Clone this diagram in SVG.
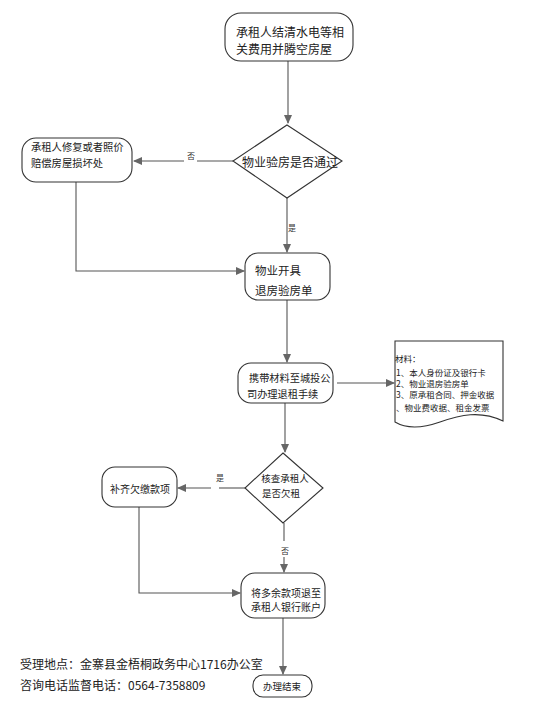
<svg xmlns="http://www.w3.org/2000/svg" width="539" height="718" viewBox="0 0 539 718">
<defs>
<marker id="arr" markerWidth="9" markerHeight="8" refX="8" refY="4" orient="auto" markerUnits="userSpaceOnUse">
<path d="M0,0 L9,4 L0,8 Z" fill="#666"/>
</marker>
<style>
.n{fill:#fff;stroke:#333;stroke-width:1.1}
.t{font-family:"Noto Sans CJK SC","Noto Sans",sans-serif;fill:#222;dominant-baseline:central}
.c{fill:none;stroke:#555;stroke-width:1.1}
.a{marker-end:url(#arr)}
.l{font-family:"Noto Sans CJK SC",sans-serif;fill:#333;font-size:8px;dominant-baseline:central;text-anchor:middle}
</style>
</defs>
<rect width="539" height="718" fill="#fff"/>
<g id="connectors">
<path class="c a" d="M288,61 V123"/>
<path class="c" d="M233,161 H197"/>
<path class="c a" d="M184,161 H134"/>
<text class="l" x="191" y="155">否</text>
<path class="c a" d="M287,198 V252"/>
<text class="l" x="292" y="227">是</text>
<path class="c a" d="M76,182 V271 H244"/>
<path class="c a" d="M287,300 V362"/>
<path class="c a" d="M337,383 H394"/>
<path class="c a" d="M285,403 V452"/>
<path class="c" d="M245,488 H219"/>
<path class="c a" d="M211,488 H178"/>
<text class="l" x="220" y="477">是</text>
<path class="c a" d="M139,507 V593 H240"/>
<path class="c" d="M284,523 V541"/>
<path class="c a" d="M284,557 V572"/>
<text class="l" x="285" y="550">否</text>
<path class="c a" d="M283,618 V674"/>
</g>
<g id="n1">
<rect class="n" x="225" y="13" width="128" height="48" rx="16"/>
<text class="t" x="236" y="31" font-size="12">承租人结清水电等相</text>
<text class="t" x="236" y="48" font-size="12">关费用并腾空房屋</text>
</g>
<g id="d1">
<path class="n" d="M287,125 L342,161 L287,198 L233,161 Z"/>
<text class="t" x="290" y="161" font-size="12" text-anchor="middle">物业验房是否通过</text>
</g>
<g id="n2">
<rect class="n" x="22" y="138" width="110" height="44" rx="14"/>
<text class="t" x="31" y="146" font-size="10.3">承租人修复或者照价</text>
<text class="t" x="31" y="162" font-size="10.3">赔偿房屋损坏处</text>
</g>
<g id="n3">
<rect class="n" x="245" y="253" width="85" height="47" rx="13"/>
<text class="t" x="255" y="270" font-size="11.5">物业开具</text>
<text class="t" x="255" y="290" font-size="11.5">退房验房单</text>
</g>
<g id="n4">
<rect class="n" x="238" y="363" width="95" height="40" rx="13"/>
<text class="t" x="249" y="377" font-size="10.2">携带材料至城投公</text>
<text class="t" x="247" y="393" font-size="10.2">司办理退租手续</text>
</g>
<g id="doc">
<path class="n" d="M395,341 H503 V421 C480,410 460,415 440,422 C420,429 405,428 395,422 Z"/>
<text class="t" x="395" y="358" font-size="8.5">材料：</text>
<text class="t" x="396" y="372" font-size="8.5">1、本人身份证及银行卡</text>
<text class="t" x="396" y="383" font-size="8.5">2、物业退房验房单</text>
<text class="t" x="396" y="394" font-size="8.5">3、原承租合同、押金收据</text>
<text class="t" x="396" y="407" font-size="8.5">、物业费收据、租金发票</text>
</g>
<g id="d2">
<path class="n" d="M283,453 L323,488 L283,523 L245,488 Z"/>
<text class="t" x="285" y="478" font-size="9.5" text-anchor="middle">核查承租人</text>
<text class="t" x="281" y="493" font-size="9.5" text-anchor="middle">是否欠租</text>
</g>
<g id="n5">
<rect class="n" x="102" y="467" width="75" height="40" rx="13"/>
<text class="t" x="140" y="488" font-size="10" text-anchor="middle">补齐欠缴款项</text>
</g>
<g id="n6">
<rect class="n" x="241" y="573" width="84" height="45" rx="14"/>
<text class="t" x="286" y="592" font-size="10" text-anchor="middle">将多余款项退至</text>
<text class="t" x="286" y="606" font-size="10" text-anchor="middle">承租人银行账户</text>
</g>
<g id="n7">
<rect class="n" x="253" y="675" width="59" height="22" rx="10"/>
<text class="t" x="282" y="686" font-size="9.5" text-anchor="middle">办理结束</text>
</g>
<g id="footer">
<text class="t" x="20" y="663" font-size="12" fill="#333">受理地点：金寨县金梧桐政务中心1716办公室</text>
<text class="t" x="20" y="684" font-size="12" fill="#333">咨询电话监督电话：0564-7358809</text>
</g>
</svg>
